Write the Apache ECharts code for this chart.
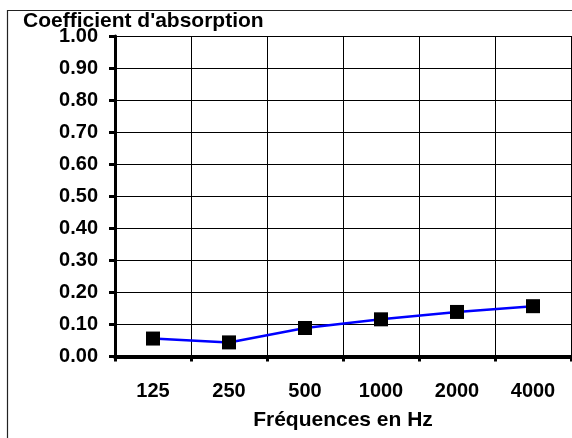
<!DOCTYPE html>
<html>
<head>
<meta charset="utf-8">
<script src="https://cdn.jsdelivr.net/npm/echarts@6/dist/echarts.min.js"></script>
<style>
html,body{margin:0;padding:0;background:#fff;}
#c{width:572px;height:438px;}
</style>
</head>
<body>
<div id="c"></div>
<script>
const categories = ['125', '250', '500', '1000', '2000', '4000'];
const absorption = [0.056, 0.044, 0.089, 0.116, 0.139, 0.157];
const yTicks = [0, 0.1, 0.2, 0.3, 0.4, 0.5, 0.6, 0.7, 0.8, 0.9, 1.0];
const yTitle = "Coefficient d'absorption";
const xTitle = 'Fréquences en Hz';

const FONT = '"Liberation Sans", Arial, sans-serif';
const chart = echarts.init(document.getElementById('c'), null, {renderer: 'canvas'});
chart.setOption({
  animation: false,
  backgroundColor: '#fff',
  graphic: [{
    type: 'rect',
    shape: {x: 7.5, y: 10.5, width: 700, height: 600},
    style: {fill: 'none', stroke: '#222', lineWidth: 1.2},
    z: -1
  }],
  title: {
    text: yTitle,
    left: 23,
    top: 11,
    padding: 0,
    textStyle: {fontFamily: FONT, fontWeight: 'bold', fontSize: 21, color: '#000'}
  },
  grid: {left: 115, top: 36, right: 1, bottom: 81.5, containLabel: false},
  xAxis: {
    type: 'category',
    data: categories,
    boundaryGap: true,
    name: xTitle,
    nameLocation: 'middle',
    nameGap: 53,
    nameTextStyle: {fontFamily: FONT, fontWeight: 'bold', fontSize: 21, color: '#000'},
    axisLine: {lineStyle: {color: '#000', width: 4}},
    axisTick: {show: true, length: 5, lineStyle: {color: '#000', width: 3}},
    axisLabel: {fontFamily: FONT, fontWeight: 'bold', fontSize: 20, color: '#000', margin: 25},
    splitLine: {show: true, lineStyle: {color: '#000', width: 1}}
  },
  yAxis: {
    type: 'value',
    min: 0,
    max: 1,
    interval: 0.1,
    axisLine: {show: true, lineStyle: {color: '#000', width: 3}},
    axisTick: {show: true, length: 6, lineStyle: {color: '#000', width: 3}},
    axisLabel: {
      fontFamily: FONT, fontWeight: 'bold', fontSize: 20, color: '#000', margin: 17,
      formatter: v => {
        const t = yTicks.find(x => Math.abs(x - v) < 1e-9);
        return (t !== undefined ? t : v).toFixed(2);
      }
    },
    splitLine: {show: true, lineStyle: {color: '#000', width: 1}}
  },
  series: [{
    type: 'line',
    data: absorption,
    symbol: 'rect',
    symbolSize: 14,
    itemStyle: {color: '#000'},
    lineStyle: {color: '#0000ff', width: 2.5},
    z: 5
  }]
});
</script>
</body>
</html>
